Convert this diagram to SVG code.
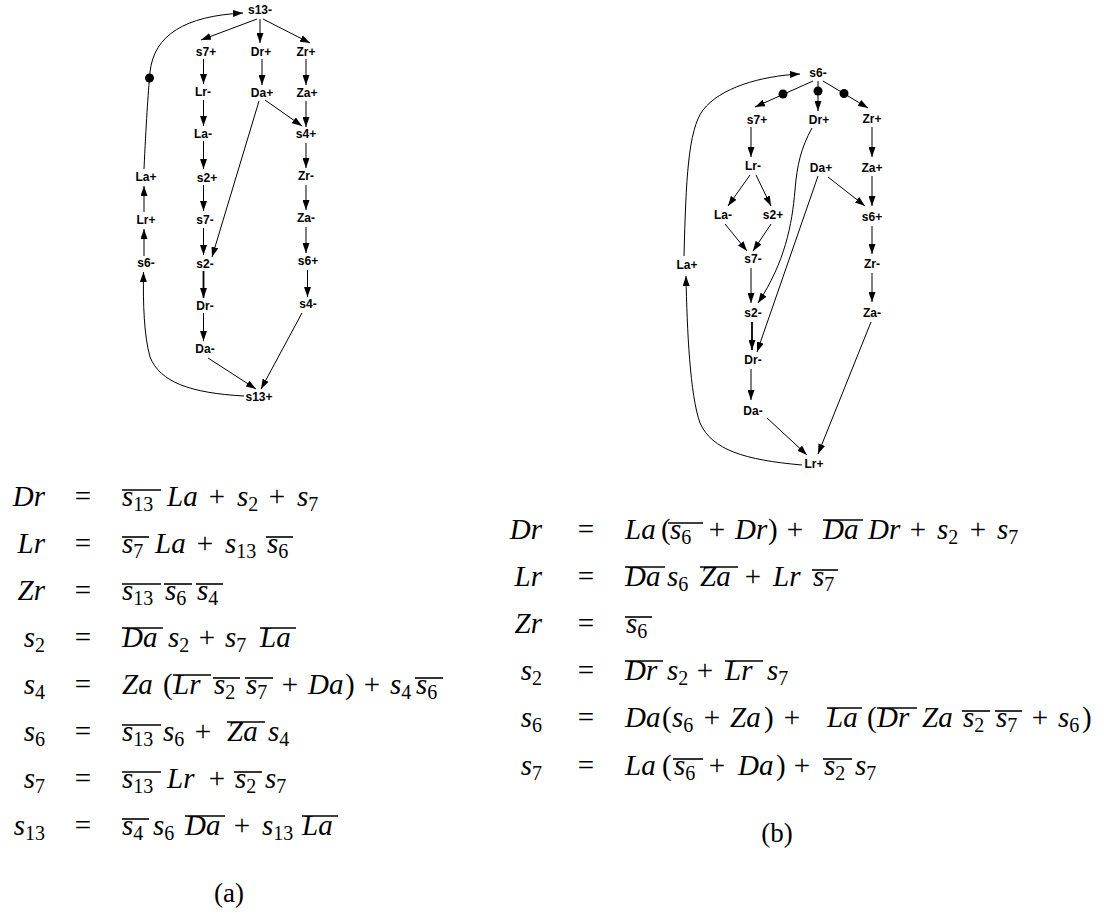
<svg xmlns="http://www.w3.org/2000/svg" width="1104" height="915" viewBox="0 0 1104 915">
<style>
.n{font-family:"Liberation Sans",Arial,sans-serif;font-weight:bold;font-size:12px;text-anchor:middle;fill:#000}
.e{fill:none;stroke:#000;stroke-width:1;marker-end:url(#ah)}
.t{stroke-width:1.8}
.m{font-family:"Liberation Serif","Times New Roman",serif;font-style:italic;font-size:29px;fill:#000}
.r{font-family:"Liberation Serif","Times New Roman",serif;font-size:29px;fill:#000}
.sb{font-style:normal;font-size:20px}
.mid{text-anchor:middle}
.end{text-anchor:end}
.ol{stroke:#000;stroke-width:1.6}
.cap{font-family:"Liberation Serif","Times New Roman",serif;font-size:27px;text-anchor:middle;fill:#000}
</style>
<defs>
<marker id="ah" markerWidth="10" markerHeight="7" refX="10" refY="3.5" orient="auto" markerUnits="userSpaceOnUse"><path d="M0,0 L10,3.5 L0,7 z" fill="#000"/></marker>
</defs>
<rect width="1104" height="915" fill="#fff"/>

<g id="graph-a">
<g id="connectors-a">
<path class="e" d="M257,19 L201,40"/>
<path class="e" d="M260,19 L260,43"/>
<path class="e" d="M263,19 L310,43"/>
<path class="e" d="M203.5,59 L203.5,84"/>
<path class="e" d="M203.5,100 L203.5,126"/>
<path class="e" d="M203.5,141 L203.5,169"/>
<path class="e" d="M203.5,185 L203.5,211"/>
<path class="e" d="M203.5,228 L203.5,255"/>
<path class="e t" d="M203.5,271 L203.5,298"/>
<path class="e" d="M203.5,313 L203.5,341"/>
<path class="e" d="M262,59 L262,85"/>
<path class="e" d="M259,101 L212,257"/>
<path class="e" d="M265,100 L302,126"/>
<path class="e" d="M306,59 L306,85"/>
<path class="e" d="M306,101 L306,127"/>
<path class="e" d="M306,143 L306,168"/>
<path class="e" d="M306,185 L306,210"/>
<path class="e" d="M306,227 L306,253"/>
<path class="e" d="M307.5,270 L307.5,297"/>
<path class="e" d="M302,313 L261,389"/>
<path class="e" d="M208,358 L256,389"/>
<path class="e" d="M144,256 L144,229"/>
<path class="e" d="M144,212 L144,186"/>
<path class="e" d="M144,169 C146,125 148,95 150,72 C154,35 185,16 243,13"/>
<path class="e" d="M244,396 C190,393 160,382 150,357 C144,335 143,305 143.5,272"/>
<circle cx="149.5" cy="78" r="4.5" fill="#000"/>
</g>
<g id="a-s13m"><text class="n" x="260" y="14.3">s13-</text></g>
<g id="a-s7p"><text class="n" x="206" y="56.3">s7+</text></g>
<g id="a-Drp"><text class="n" x="261" y="56.3">Dr+</text></g>
<g id="a-Zrp"><text class="n" x="306" y="56.3">Zr+</text></g>
<g id="a-Lrm"><text class="n" x="203" y="96.3">Lr-</text></g>
<g id="a-Dap"><text class="n" x="262" y="97.3">Da+</text></g>
<g id="a-Zap"><text class="n" x="307" y="97.3">Za+</text></g>
<g id="a-Lam"><text class="n" x="203" y="138.3">La-</text></g>
<g id="a-s4p"><text class="n" x="306" y="138.3">s4+</text></g>
<g id="a-Lap"><text class="n" x="146" y="181">La+</text></g>
<g id="a-s2p"><text class="n" x="207" y="182">s2+</text></g>
<g id="a-Zrm"><text class="n" x="306" y="180.3">Zr-</text></g>
<g id="a-Lrp"><text class="n" x="146" y="224">Lr+</text></g>
<g id="a-s7m"><text class="n" x="205" y="224">s7-</text></g>
<g id="a-Zam"><text class="n" x="306" y="222">Za-</text></g>
<g id="a-s6m"><text class="n" x="146" y="267">s6-</text></g>
<g id="a-s2m"><text class="n" x="205" y="268">s2-</text></g>
<g id="a-s6p"><text class="n" x="308" y="265">s6+</text></g>
<g id="a-Drm"><text class="n" x="205" y="310">Dr-</text></g>
<g id="a-s4m"><text class="n" x="308" y="308">s4-</text></g>
<g id="a-Dam"><text class="n" x="205" y="353">Da-</text></g>
<g id="a-s13p"><text class="n" x="259" y="401">s13+</text></g>
</g>

<g id="graph-b">
<g id="connectors-b">
<path class="e" d="M813,81 L755,107"/>
<path class="e" d="M818,81 L818,111"/>
<path class="e" d="M823,81 L868,108"/>
<circle cx="783" cy="94" r="4.5" fill="#000"/>
<circle cx="818" cy="91" r="4.5" fill="#000"/>
<circle cx="844" cy="93.5" r="4.5" fill="#000"/>
<path class="e" d="M751,127 L751,157"/>
<path class="e" d="M750,175 L728,206"/>
<path class="e" d="M756,175 L771,206"/>
<path class="e" d="M725,224 L747,251"/>
<path class="e" d="M771,224 L753,251"/>
<path class="e" d="M751,268 L751,303"/>
<path class="e" d="M812,128 C801,148 797,165 795,190 C792,225 785,262 758,303"/>
<path class="e" d="M818,176 L757,352"/>
<path class="e" d="M828,177 L865,206"/>
<path class="e" d="M872,127 L872,157"/>
<path class="e" d="M872,176 L872,206"/>
<path class="e" d="M872,226 L872,254"/>
<path class="e" d="M872,273 L872,302"/>
<path class="e" d="M871,322 L818,454"/>
<path class="e t" d="M752,322 L752,350"/>
<path class="e" d="M751,369 L751,400"/>
<path class="e" d="M767,418 L807,455"/>
<path class="e" d="M802,465 C745,460 712,450 700,423 C690,395 687,330 686,276"/>
<path class="e" d="M684,256 C686,180 688,130 703,110 C720,88 760,76 800,74"/>
</g>
<g id="b-s6m"><text class="n" x="818" y="77">s6-</text></g>
<g id="b-s7p"><text class="n" x="757" y="124">s7+</text></g>
<g id="b-Drp"><text class="n" x="819" y="124">Dr+</text></g>
<g id="b-Zrp"><text class="n" x="872" y="123">Zr+</text></g>
<g id="b-Lrm"><text class="n" x="753" y="170">Lr-</text></g>
<g id="b-Dap"><text class="n" x="821" y="172">Da+</text></g>
<g id="b-Zap"><text class="n" x="872" y="172">Za+</text></g>
<g id="b-Lam"><text class="n" x="723" y="219">La-</text></g>
<g id="b-s2p"><text class="n" x="773" y="219">s2+</text></g>
<g id="b-s6p"><text class="n" x="872" y="221">s6+</text></g>
<g id="b-Lap"><text class="n" x="687" y="269">La+</text></g>
<g id="b-s7m"><text class="n" x="753" y="263">s7-</text></g>
<g id="b-Zrm"><text class="n" x="872" y="268">Zr-</text></g>
<g id="b-s2m"><text class="n" x="753" y="317">s2-</text></g>
<g id="b-Zam"><text class="n" x="872" y="317">Za-</text></g>
<g id="b-Drm"><text class="n" x="753" y="364">Dr-</text></g>
<g id="b-Dam"><text class="n" x="753" y="415">Da-</text></g>
<g id="b-Lrp"><text class="n" x="814" y="468">Lr+</text></g>
</g>

<g id="equations-a">
<text class="m end" x="45" y="506">Dr</text>
<text class="r mid" x="83" y="506">=</text>
<text class="m" x="122" y="506">s<tspan class="sb" dy="5">13</tspan></text><line class="ol" x1="122" y1="490" x2="161" y2="490"/>
<text class="m" x="167" y="506">La</text>
<text class="r mid" x="217" y="506">+</text>
<text class="m" x="237" y="506">s<tspan class="sb" dy="5">2</tspan></text>
<text class="r mid" x="277" y="506">+</text>
<text class="m" x="297" y="506">s<tspan class="sb" dy="5">7</tspan></text>

<text class="m end" x="45" y="553">Lr</text>
<text class="r mid" x="83" y="553">=</text>
<text class="m" x="122" y="553">s<tspan class="sb" dy="5">7</tspan></text><line class="ol" x1="122" y1="537" x2="149" y2="537"/>
<text class="m" x="155" y="553">La</text>
<text class="r mid" x="205" y="553">+</text>
<text class="m" x="225" y="553">s<tspan class="sb" dy="5">13</tspan></text>
<text class="m" x="267" y="553">s<tspan class="sb" dy="5">6</tspan></text><line class="ol" x1="266" y1="537" x2="293" y2="537"/>

<text class="m end" x="45" y="600">Zr</text>
<text class="r mid" x="83" y="600">=</text>
<text class="m" x="122" y="600">s<tspan class="sb" dy="5">13</tspan></text><line class="ol" x1="122" y1="584" x2="161" y2="584"/>
<text class="m" x="165" y="600">s<tspan class="sb" dy="5">6</tspan></text><line class="ol" x1="164" y1="584" x2="192" y2="584"/>
<text class="m" x="197" y="600">s<tspan class="sb" dy="5">4</tspan></text><line class="ol" x1="196" y1="584" x2="223" y2="584"/>

<text class="m end" x="45" y="647">s<tspan class="sb" dy="5">2</tspan></text>
<text class="r mid" x="83" y="647">=</text>
<text class="m" x="122" y="647">Da</text><line class="ol" x1="122" y1="628" x2="163" y2="628"/>
<text class="m" x="168" y="647">s<tspan class="sb" dy="5">2</tspan></text>
<text class="r mid" x="207" y="647">+</text>
<text class="m" x="225" y="647">s<tspan class="sb" dy="5">7</tspan></text>
<text class="m" x="260" y="647">La</text><line class="ol" x1="260" y1="628" x2="296" y2="628"/>

<text class="m end" x="45" y="694">s<tspan class="sb" dy="5">4</tspan></text>
<text class="r mid" x="83" y="694">=</text>
<text class="m" x="122" y="694">Za</text>
<text class="r" x="163" y="694">(</text>
<text class="m" x="173" y="694">Lr</text><line class="ol" x1="173" y1="675" x2="211" y2="675"/>
<text class="m" x="214" y="694">s<tspan class="sb" dy="5">2</tspan></text><line class="ol" x1="213" y1="678" x2="240" y2="678"/>
<text class="m" x="246" y="694">s<tspan class="sb" dy="5">7</tspan></text><line class="ol" x1="245" y1="678" x2="273" y2="678"/>
<text class="r mid" x="290" y="694">+</text>
<text class="m" x="308" y="694">Da</text>
<text class="r" x="345" y="694">)</text>
<text class="r mid" x="372" y="694">+</text>
<text class="m" x="390" y="694">s<tspan class="sb" dy="5">4</tspan></text>
<text class="m" x="416" y="694">s<tspan class="sb" dy="5">6</tspan></text><line class="ol" x1="415" y1="678" x2="443" y2="678"/>

<text class="m end" x="45" y="741">s<tspan class="sb" dy="5">6</tspan></text>
<text class="r mid" x="83" y="741">=</text>
<text class="m" x="122" y="741">s<tspan class="sb" dy="5">13</tspan></text><line class="ol" x1="122" y1="725" x2="161" y2="725"/>
<text class="m" x="163" y="741">s<tspan class="sb" dy="5">6</tspan></text>
<text class="r mid" x="203" y="741">+</text>
<text class="m" x="227" y="741">Za</text><line class="ol" x1="227" y1="722" x2="265" y2="722"/>
<text class="m" x="268" y="741">s<tspan class="sb" dy="5">4</tspan></text>

<text class="m end" x="45" y="788">s<tspan class="sb" dy="5">7</tspan></text>
<text class="r mid" x="83" y="788">=</text>
<text class="m" x="122" y="788">s<tspan class="sb" dy="5">13</tspan></text><line class="ol" x1="122" y1="772" x2="161" y2="772"/>
<text class="m" x="167" y="788">Lr</text>
<text class="r mid" x="217" y="788">+</text>
<text class="m" x="235" y="788">s<tspan class="sb" dy="5">2</tspan></text><line class="ol" x1="234" y1="772" x2="262" y2="772"/>
<text class="m" x="265" y="788">s<tspan class="sb" dy="5">7</tspan></text>

<text class="m end" x="45" y="835">s<tspan class="sb" dy="5">13</tspan></text>
<text class="r mid" x="83" y="835">=</text>
<text class="m" x="122" y="835">s<tspan class="sb" dy="5">4</tspan></text><line class="ol" x1="122" y1="819" x2="149" y2="819"/>
<text class="m" x="153" y="835">s<tspan class="sb" dy="5">6</tspan></text>
<text class="m" x="185" y="835">Da</text><line class="ol" x1="185" y1="816" x2="225" y2="816"/>
<text class="r mid" x="242" y="835">+</text>
<text class="m" x="262" y="835">s<tspan class="sb" dy="5">13</tspan></text>
<text class="m" x="302" y="835">La</text><line class="ol" x1="302" y1="816" x2="338" y2="816"/>
<text class="cap" x="229" y="902">(a)</text>
</g>

<g id="equations-b">
<text class="m end" x="542" y="539">Dr</text>
<text class="r mid" x="586" y="539">=</text>
<text class="m" x="625" y="539">La</text>
<text class="r" x="661" y="539">(</text>
<text class="m" x="670" y="539">s<tspan class="sb" dy="5">6</tspan></text><line class="ol" x1="668" y1="523" x2="703" y2="523"/>
<text class="r mid" x="717" y="539">+</text>
<text class="m" x="735" y="539">Dr</text>
<text class="r" x="768" y="539">)</text>
<text class="r mid" x="795" y="539">+</text>
<text class="m" x="823" y="539">Da</text><line class="ol" x1="823" y1="520" x2="863" y2="520"/>
<text class="m" x="868" y="539">Dr</text>
<text class="r mid" x="918" y="539">+</text>
<text class="m" x="937" y="539">s<tspan class="sb" dy="5">2</tspan></text>
<text class="r mid" x="978" y="539">+</text>
<text class="m" x="997" y="539">s<tspan class="sb" dy="5">7</tspan></text>

<text class="m end" x="542" y="586">Lr</text>
<text class="r mid" x="586" y="586">=</text>
<text class="m" x="625" y="586">Da</text><line class="ol" x1="625" y1="567" x2="665" y2="567"/>
<text class="m" x="667" y="586">s<tspan class="sb" dy="5">6</tspan></text>
<text class="m" x="700" y="586">Za</text><line class="ol" x1="700" y1="567" x2="738" y2="567"/>
<text class="r mid" x="753" y="586">+</text>
<text class="m" x="773" y="586">Lr</text>
<text class="m" x="813" y="586">s<tspan class="sb" dy="5">7</tspan></text><line class="ol" x1="812" y1="570" x2="838" y2="570"/>

<text class="m end" x="542" y="633">Zr</text>
<text class="r mid" x="586" y="633">=</text>
<text class="m" x="626" y="633">s<tspan class="sb" dy="5">6</tspan></text><line class="ol" x1="625" y1="617" x2="652" y2="617"/>

<text class="m end" x="542" y="680">s<tspan class="sb" dy="5">2</tspan></text>
<text class="r mid" x="586" y="680">=</text>
<text class="m" x="625" y="680">Dr</text><line class="ol" x1="625" y1="661" x2="663" y2="661"/>
<text class="m" x="667" y="680">s<tspan class="sb" dy="5">2</tspan></text>
<text class="r mid" x="705" y="680">+</text>
<text class="m" x="725" y="680">Lr</text><line class="ol" x1="725" y1="661" x2="763" y2="661"/>
<text class="m" x="767" y="680">s<tspan class="sb" dy="5">7</tspan></text>

<text class="m end" x="542" y="727">s<tspan class="sb" dy="5">6</tspan></text>
<text class="r mid" x="586" y="727">=</text>
<text class="m" x="625" y="727">Da</text>
<text class="r" x="662" y="727">(</text>
<text class="m" x="672" y="727">s<tspan class="sb" dy="5">6</tspan></text>
<text class="r mid" x="712" y="727">+</text>
<text class="m" x="730" y="727">Za</text>
<text class="r" x="764" y="727">)</text>
<text class="r mid" x="792" y="727">+</text>
<text class="m" x="827" y="727">La</text><line class="ol" x1="827" y1="708" x2="862" y2="708"/>
<text class="r" x="867" y="727">(</text>
<text class="m" x="877" y="727">Dr</text><line class="ol" x1="877" y1="708" x2="917" y2="708"/>
<text class="m" x="922" y="727">Za</text>
<text class="m" x="963" y="727">s<tspan class="sb" dy="5">2</tspan></text><line class="ol" x1="962" y1="711" x2="990" y2="711"/>
<text class="m" x="996" y="727">s<tspan class="sb" dy="5">7</tspan></text><line class="ol" x1="995" y1="711" x2="1022" y2="711"/>
<text class="r mid" x="1040" y="727">+</text>
<text class="m" x="1058" y="727">s<tspan class="sb" dy="5">6</tspan></text>
<text class="r" x="1082" y="727">)</text>

<text class="m end" x="542" y="775">s<tspan class="sb" dy="5">7</tspan></text>
<text class="r mid" x="586" y="775">=</text>
<text class="m" x="625" y="775">La</text>
<text class="r" x="662" y="775">(</text>
<text class="m" x="674" y="775">s<tspan class="sb" dy="5">6</tspan></text><line class="ol" x1="673" y1="759" x2="703" y2="759"/>
<text class="r mid" x="717" y="775">+</text>
<text class="m" x="738" y="775">Da</text>
<text class="r" x="776" y="775">)</text>
<text class="r mid" x="802" y="775">+</text>
<text class="m" x="824" y="775">s<tspan class="sb" dy="5">2</tspan></text><line class="ol" x1="823" y1="759" x2="852" y2="759"/>
<text class="m" x="855" y="775">s<tspan class="sb" dy="5">7</tspan></text>
<text class="cap" x="777" y="842">(b)</text>
</g>
</svg>
